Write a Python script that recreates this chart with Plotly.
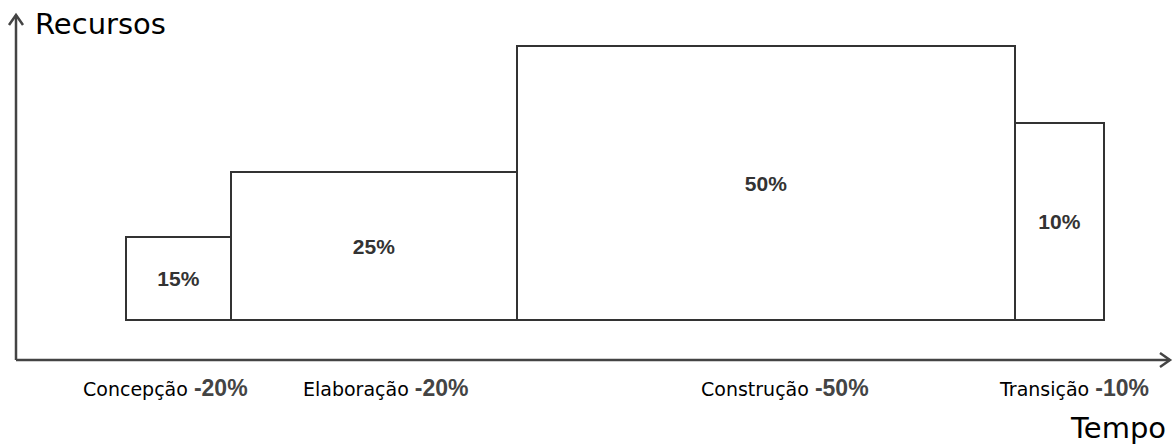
import numpy as np
import plotly.graph_objects as go

# Fases do processo (duração relativa no tempo e nível de recursos)
phases = ["Concepção", "Elaboração", "Construção", "Transição"]
phase_share = ["-20%", "-20%", "-50%", "-10%"]
resource_share = ["15%", "25%", "50%", "10%"]
durations = [105, 286, 498, 89]
resources = [83, 148, 274, 197]

starts = np.concatenate([[0], np.cumsum(durations)[:-1]])
centers = starts + np.array(durations) / 2

fig = go.Figure()
fig.add_trace(go.Bar(
    x=centers, y=resources, width=durations, base=0,
    marker=dict(color="white", line=dict(color="#333333", width=2)),
    text=resource_share, textposition="inside", insidetextanchor="middle",
    textangle=0, constraintext="none",
    textfont=dict(family="Liberation Sans", size=21, color="#333333", weight="bold"),
    hoverinfo="skip", showlegend=False,
))

# eixos desenhados como setas
axis_x0, axis_y0 = -110, -40
x_end, y_end = 1044, 305
axis_style = dict(color="#444444", width=2.5)
fig.add_shape(type="line", x0=axis_x0, y0=axis_y0, x1=axis_x0, y1=y_end, line=axis_style)
fig.add_shape(type="line", x0=axis_x0, y0=axis_y0, x1=x_end, y1=axis_y0, line=axis_style)
fig.add_shape(type="path", line=axis_style,
              path=f"M {axis_x0-7},{y_end-10} L {axis_x0},{y_end} L {axis_x0+7},{y_end-10}")
fig.add_shape(type="path", line=axis_style,
              path=f"M {x_end-10},{axis_y0+7} L {x_end},{axis_y0} L {x_end-10},{axis_y0-7}")

fig.add_annotation(x=axis_x0 + 17, y=y_end - 9, text="Recursos", showarrow=False,
                   xanchor="left", yanchor="middle",
                   font=dict(family="DejaVu Sans", size=29, color="black"))
fig.add_annotation(x=x_end - 2, y=-108, text="Tempo", showarrow=False,
                   xanchor="right", yanchor="middle",
                   font=dict(family="DejaVu Sans", size=29, color="black"))

shifts = [-13, 12, 19, 14]
for c, name, share, dx in zip(centers, phases, phase_share, shifts):
    fig.add_annotation(
        x=c, y=-68, xshift=dx, showarrow=False, xanchor="center", yanchor="middle",
        text=f"{name} <span style='font-family:Liberation Sans;font-weight:bold;"
             f"color:#444444;font-size:23px'>{share}</span>",
        font=dict(family="DejaVu Sans", size=19, color="black"),
    )

fig.update_layout(
    width=1173, height=445, margin=dict(l=0, r=0, t=0, b=0),
    paper_bgcolor="white", plot_bgcolor="white",
    xaxis=dict(range=[-126, 1047], visible=False, fixedrange=True),
    yaxis=dict(range=[-125, 320], visible=False, fixedrange=True),
    bargap=0,
)

fig.write_html("out.html", config={"displayModeBar": False},
               post_script="document.body.style.margin='0';")
